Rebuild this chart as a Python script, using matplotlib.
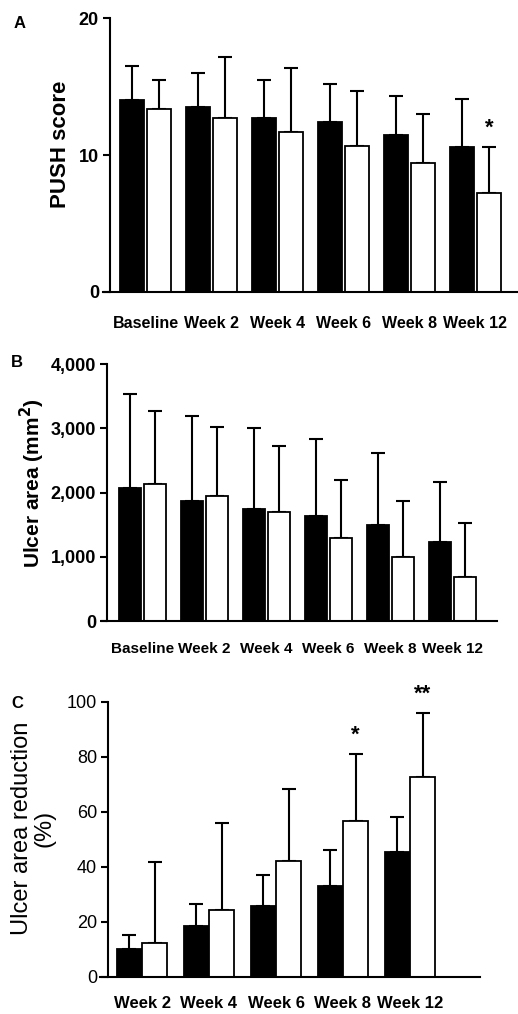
import matplotlib
matplotlib.use("Agg")
import matplotlib.pyplot as plt
import numpy as np

# panel A: PUSH score (mean, SD)
weeks_ab = ["Baseline", "Week 2", "Week 4", "Week 6", "Week 8", "Week 12"]
push_black = [14.0, 13.5, 12.7, 12.4, 11.5, 10.6]
push_black_sd = [2.5, 2.5, 2.8, 2.8, 2.8, 3.5]
push_white = [13.4, 12.7, 11.7, 10.7, 9.4, 7.2]
push_white_sd = [2.1, 4.5, 4.7, 4.0, 3.6, 3.4]

# panel B: ulcer area (mm2)
area_black = [2070, 1870, 1740, 1630, 1500, 1230]
area_black_sd = [1470, 1320, 1260, 1200, 1120, 940]
area_white = [2140, 1950, 1700, 1300, 990, 680]
area_white_sd = [1130, 1070, 1030, 900, 885, 850]

# panel C: ulcer area reduction (%)
weeks_c = ["Week 2", "Week 4", "Week 6", "Week 8", "Week 12"]
red_black = [10.0, 18.4, 25.7, 33.1, 45.5]
red_black_sd = [5.0, 8.1, 11.4, 12.8, 12.7]
red_white = [12.2, 24.2, 41.9, 56.8, 72.5]
red_white_sd = [29.5, 31.7, 26.5, 24.3, 23.5]

W, H = 518, 1014
fig = plt.figure(figsize=(W / 100, H / 100), dpi=100)
fig.patch.set_facecolor("white")

sans = ["Liberation Sans", "DejaVu Sans"]


def px_axes(x0, x1, y_top, y_bot):
    # pixel box -> figure fraction
    return [x0 / W, 1 - y_bot / H, (x1 - x0) / W, (y_bot - y_top) / H]


def draw_panel(ax, labels, b, bsd, w, wsd, spine_px, c0_px, step_px, width, off,
               tick_bold, xpad, xfs):
    x = np.arange(len(labels))
    ax.bar(x - off, b, width, color="black", edgecolor="black", linewidth=1.3, zorder=2)
    ax.bar(x + off, w, width, color="white", edgecolor="black", linewidth=1.3, zorder=2)
    ax.errorbar(x - off, b, yerr=[np.zeros(len(b)), bsd], fmt="none", ecolor="black",
                elinewidth=1.5, capsize=5, capthick=1.5, zorder=1)
    ax.errorbar(x + off, w, yerr=[np.zeros(len(w)), wsd], fmt="none", ecolor="black",
                elinewidth=1.5, capsize=5, capthick=1.5, zorder=1)
    # x range from pixel layout
    bb = ax.get_position()
    x0 = bb.x0 * W
    wpx = bb.width * W
    xmin = -(c0_px - x0) / step_px
    ax.set_xlim(xmin, xmin + wpx / step_px)
    for s in ["top", "right"]:
        ax.spines[s].set_visible(False)
    ax.spines["left"].set_position(("axes", (spine_px - x0) / wpx))
    ax.spines["left"].set_linewidth(1.5)
    ax.spines["bottom"].set_linewidth(1.5)
    ax.set_xticks(x)
    ax.set_xticklabels(labels, family=sans, fontweight="bold", fontsize=xfs)
    ax.tick_params(axis="x", length=0, pad=xpad)
    ax.tick_params(axis="y", length=5, width=1.5, pad=3)
    for t in ax.get_yticklabels():
        t.set_fontfamily(sans)
        t.set_fontsize(13)
        t.set_fontweight("bold" if tick_bold else "normal")
    return x


# ---- A
axA = fig.add_axes(px_axes(103, 518, 18.3, 292))
axA.set_ylim(0, 20)
axA.set_yticks([0, 10, 20])
xA = draw_panel(axA, weeks_ab, push_black, push_black_sd, push_white, push_white_sd,
                110, 145.5, 66, 0.364, 0.205, True, 17, 11.5)
axA.annotate("*", (xA[-1] + 0.205, push_white[-1] + push_white_sd[-1]),
             xytext=(0, 6), textcoords="offset points", ha="center", va="bottom",
             fontsize=16, fontweight="bold", family=sans)

# ---- B
axB = fig.add_axes(px_axes(102, 497, 364.3, 621))
axB.set_ylim(0, 4000)
axB.set_yticks([0, 1000, 2000, 3000, 4000])
axB.set_yticklabels(["0", "1,000", "2,000", "3,000", "4,000"])
draw_panel(axB, weeks_ab, area_black, area_black_sd, area_white, area_white_sd,
           107, 142.5, 62, 0.355, 0.206, True, 15, 11)

# ---- C
axC = fig.add_axes(px_axes(100, 480, 701.7, 976.7))
axC.set_ylim(0, 100)
axC.set_yticks([0, 20, 40, 60, 80, 100])
xC = draw_panel(axC, weeks_c, red_black, red_black_sd, red_white, red_white_sd,
                108, 142, 67, 0.373, 0.19, False, 14, 12)
for i, mark in [(3, "*"), (4, "**")]:
    axC.annotate(mark, (xC[i] + 0.19, red_white[i] + red_white_sd[i]),
                 xytext=(0, 6), textcoords="offset points", ha="center", va="bottom",
                 fontsize=16, fontweight="bold", family=sans)

# axis titles and panel letters
fig.text(60 / W, 1 - 144 / H, "PUSH score", rotation=90, ha="center", va="center",
         fontsize=16, fontweight="bold", family=sans)
fig.text(32 / W, 1 - 483 / H, "Ulcer area (mm$^\\mathbf{2}$)", rotation=90, ha="center",
         va="center", fontsize=15, fontweight="bold", family=sans)
fig.text(33 / W, 1 - 828 / H, "Ulcer area reduction\n(%)", rotation=90, ha="center",
         va="center", fontsize=17, family=sans, linespacing=1.05)
for lab, (px, py) in zip("ABC", [(20, 23), (17, 363), (17, 703)]):
    fig.text(px / W, 1 - py / H, lab, ha="center", va="center", fontsize=12,
             fontweight="bold", family=sans)

fig.savefig("out.png", dpi=100, facecolor="white")
